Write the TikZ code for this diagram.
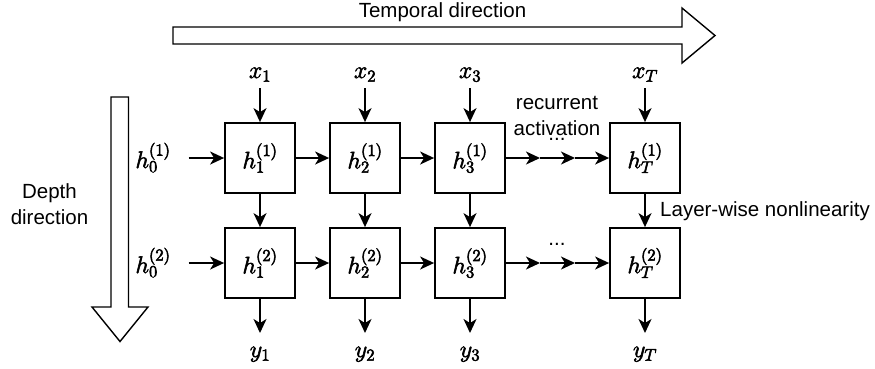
\RequirePackage{fix-cm}
\documentclass[tikz,border=0pt]{standalone}
\usepackage[no-math]{fontspec}
\newfontfamily\labelfont{Liberation Sans}
\usetikzlibrary{arrows.meta}
\newcommand\mth[1]{\special{pdf:literal direct 2 Tr 0.55 w}$#1$\special{pdf:literal direct 0 Tr}}
\begin{document}
\begin{tikzpicture}[x=1pt,y=-1pt,
  cell/.style={draw, line width=1.8pt, minimum width=70pt, minimum height=70pt, inner sep=0pt, font=\fontsize{24}{28}\selectfont},
  mlabel/.style={inner sep=0pt, anchor=base, font=\fontsize{24}{28}\selectfont},
  tlabel/.style={inner sep=0pt, font=\labelfont\fontsize{20.5}{25.8}\selectfont, align=center},
  conn/.style={line width=1.8pt, -{Stealth[length=14pt,width=13pt,inset=4pt]}},
  blockarrow/.style={draw, line width=1.4pt, fill=white, line join=miter}]
\fill[white] (0,0) rectangle (875,368);
\useasboundingbox (0,0) rectangle (875,368);

% block arrows
\draw[blockarrow] (173,27) -- (682,27) -- (682,8) -- (715,35.5) -- (682,63) -- (682,44) -- (173,44) -- cycle;
\draw[blockarrow] (111,97) -- (128.5,97) -- (128.5,307) -- (148,307) -- (120,341.5) -- (92,307) -- (111,307) -- cycle;

% texts
\node[tlabel, anchor=base] (tdir) at (442.5,17.5) {Temporal direction};
\node[tlabel, anchor=base] (ddir) at (49.5,224) {Depth\\direction};
\node[tlabel, anchor=base] (rec) at (557,135) {recurrent\\activation};
\node[tlabel, anchor=base west] (lw) at (660,216.5) {Layer-wise nonlinearity};
\node[tlabel, anchor=base] (dots1) at (557,140.5) {...};
\node[tlabel, anchor=base] (dots2) at (557,245) {...};

% cells
\node[cell] (b11) at (260,158) {\mth{h_1^{(1)}}};
\node[cell] (b12) at (365,158) {\mth{h_2^{(1)}}};
\node[cell] (b13) at (470,158) {\mth{h_3^{(1)}}};
\node[cell] (b14) at (645,158) {\mth{h_T^{(1)}}};
\node[cell] (b21) at (260,263) {\mth{h_1^{(2)}}};
\node[cell] (b22) at (365,263) {\mth{h_2^{(2)}}};
\node[cell] (b23) at (470,263) {\mth{h_3^{(2)}}};
\node[cell] (b24) at (645,263) {\mth{h_T^{(2)}}};

% inputs / outputs / initial states
\node[mlabel] (x1) at (260,78) {\mth{x_1}};
\node[mlabel] (x2) at (365,78) {\mth{x_2}};
\node[mlabel] (x3) at (470,78) {\mth{x_3}};
\node[mlabel] (xT) at (645,78) {\mth{x_T}};
\node[mlabel] (y1) at (260,357) {\mth{y_1}};
\node[mlabel] (y2) at (365,357) {\mth{y_2}};
\node[mlabel] (y3) at (470,357) {\mth{y_3}};
\node[mlabel] (yT) at (645,357) {\mth{y_T}};
\node[mlabel] (h01) at (153,168) {\mth{h_0^{(1)}}};
\node[mlabel] (h02) at (153,273) {\mth{h_0^{(2)}}};

\coordinate (m11) at (540,158);
\coordinate (m12) at (575,158);
\coordinate (m21) at (540,263);
\coordinate (m22) at (575,263);

% connectors
\foreach \a/\b in {x1/b11,x2/b12,x3/b13,xT/b14}
  \draw[conn, shorten <=4pt] (\a.south |- 0,84) -- (\b.north);
\foreach \a/\b in {b21/y1,b22/y2,b23/y3,b24/yT}
  \draw[conn] (\a.south) -- (\a.south |- 0,333);
\foreach \a/\b in {b11/b21,b12/b22,b13/b23,b14/b24,b11/b12,b12/b13,b21/b22,b22/b23}
  \draw[conn] (\a) -- (\b);
\draw[conn] (h01.east |- b11) ++(18,0) -- (b11);
\draw[conn] (h02.east |- b21) ++(18,0) -- (b21);
\draw[conn] (b13) -- (m11);
\draw[conn] (m11) -- (m12);
\draw[conn] (m12) -- (b14);
\draw[conn] (b23) -- (m21);
\draw[conn] (m21) -- (m22);
\draw[conn] (m22) -- (b24);
\end{tikzpicture}
\end{document}
